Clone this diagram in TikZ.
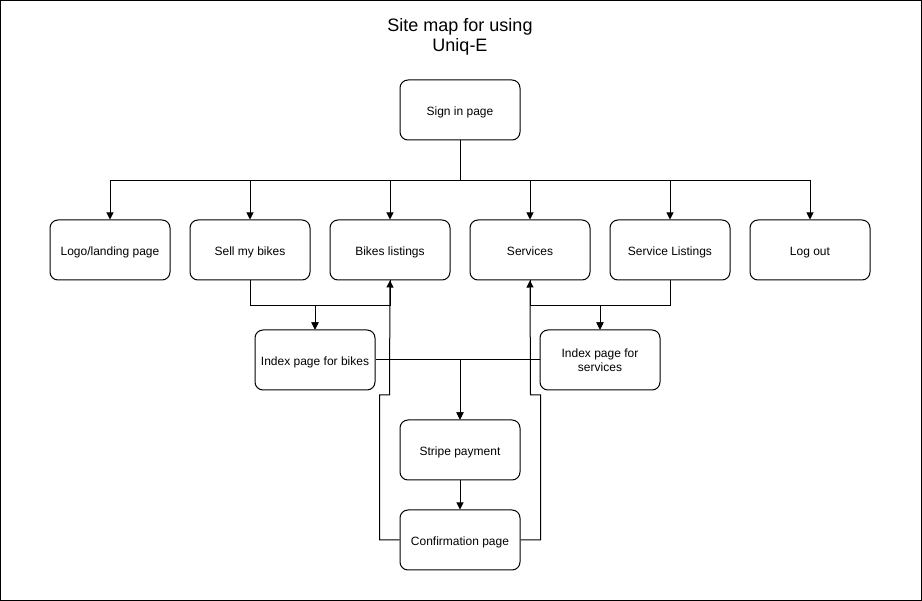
\documentclass[tikz,border=0pt]{standalone}
\usepackage{fontspec}
\setmainfont{Liberation Sans}
\usetikzlibrary{positioning}
\usetikzlibrary{calc}
\usetikzlibrary{arrows.meta}

\tikzset{
  page/.style={draw=black, fill=white, rectangle, rounded corners=8pt, line width=1pt,
    minimum width=120pt, minimum height=60pt, align=center, font=\fontsize{12}{14}\selectfont,
    text height=12.4pt, text depth=1pt},
  arr/.style={-{Triangle[length=7pt, width=7pt]}, line width=1pt}
}

\begin{document}
\begin{tikzpicture}[x=1pt, y=-1pt]

\useasboundingbox (0,0) rectangle (922,601);
\draw[line width=1pt] (0.5,0.5) rectangle (921.5,600.5);

\node[align=center, font=\fontsize{18}{20}\selectfont] (TITLE) at (460,37) {Site map for using\\Uniq-E};

\node[page] (SIGNIN) at (460,110) {Sign in page};

\node[page] (LOGO)   at (110,250) {Logo/landing page};
\node[page] (SELL)   at (250,250) {Sell my bikes};
\node[page] (BIKES)  at (390,250) {Bikes listings};
\node[page] (SERV)   at (530,250) {Services};
\node[page] (SERVL)  at (670,250) {Service Listings};
\node[page] (LOGOUT) at (810,250) {Log out};

\node[page] (IDXB) at (315,360) {Index page for bikes};
\node[page, text height=23.6pt] (IDXS) at (600,360) {Index page for\\services};

\node[page] (STRIPE)  at (460,450) {Stripe payment};
\node[page] (CONFIRM) at (460,540) {Confirmation page};


\foreach \n in {LOGO, SELL, BIKES, SERV, SERVL, LOGOUT}
  \draw[arr] (SIGNIN.south) -- ++(0,40) -| (\n.north);

\draw[arr] (SELL.south) -- ++(0,25) -| (IDXB.north);
\draw[arr] (BIKES.south) -- ++(0,25) -| (IDXB.north);
\draw[arr] (SERVL.south) -- ++(0,25) -| (IDXS.north);
\draw[arr] (SERV.south) -- ++(0,25) -| (IDXS.north);

\draw[arr] (IDXB.east) -| (STRIPE.north);
\draw[arr] (IDXS.west) -| (STRIPE.north);
\draw[arr] (STRIPE) -- (CONFIRM);

\draw[arr] (CONFIRM.west) -| ++(-20,-145) -- ++(10,0) -- (BIKES.south);
\draw[arr] (CONFIRM.east) -| ++(20,-145) -- ++(-10,0) -- (SERV.south);

\end{tikzpicture}
\end{document}
